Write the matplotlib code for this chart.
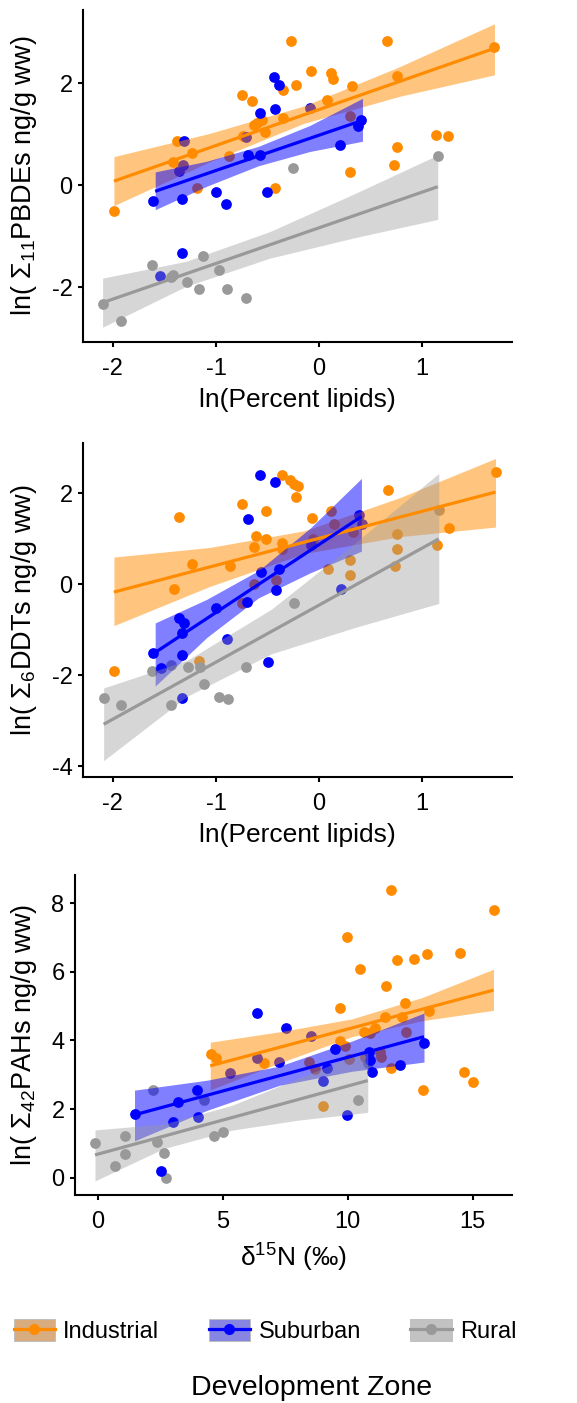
import numpy as np
import matplotlib
matplotlib.use("Agg")
import matplotlib.pyplot as plt
from matplotlib.patches import Patch
from matplotlib.lines import Line2D

plt.rcParams['font.family'] = ['Liberation Sans', 'DejaVu Sans']
plt.rcParams['mathtext.fontset'] = 'custom'
plt.rcParams['mathtext.rm'] = 'Liberation Sans'
plt.rcParams['mathtext.it'] = 'Liberation Sans:italic'
plt.rcParams['mathtext.sf'] = 'Liberation Sans'

zones = ["Industrial", "Suburban", "Rural"]
colors = {"Industrial": "#FF8C00", "Suburban": "#0000FF", "Rural": "#999999"}
band_alpha = {"Industrial": 0.5, "Suburban": 0.5, "Rural": 0.4}
key_colors = {"Industrial": "#D8AC7E", "Suburban": "#8686E2", "Rural": "#C2C2C2"}

# ---------------- Panel 1: PBDEs vs ln(Percent lipids) ----------------
pbde_ind_x = [-1.99, -1.38, -1.42, -1.23, -1.18, -0.87, -0.75, -0.65, -0.63, -0.60, -0.55, -0.53,
              -0.74, -0.35, -0.35, -0.27, -0.22, -0.08, -0.43, 0.08, 0.11, 0.13, 0.32, 0.30,
              0.30, 0.66, 0.75, 0.75, 0.73, 1.13, 1.25, 1.70]
pbde_ind_y = [-0.51, 0.87, 0.46, 0.64, -0.05, 0.58, 1.77, 1.65, 1.17, 1.22, 1.28, 1.05,
              0.96, 1.87, 1.32, 2.83, 1.97, 2.23, -0.05, 1.67, 2.20, 2.08, 1.95, 1.36,
              0.25, 2.83, 2.14, 0.74, 0.40, 0.98, 0.96, 2.70]
pbde_sub_x = [-1.61, -1.54, -1.36, -1.32, -1.31, -1.33, -1.33, -1.00, -0.90, -0.71, -0.69,
              -0.57, -0.57, -0.51, -0.44, -0.39, -0.43, -0.09, 0.20, 0.38, 0.41]
pbde_sub_y = [-0.31, -1.77, 0.27, 0.40, 0.87, -0.28, -1.32, -0.14, -0.36, 0.94, 0.59,
              0.59, 1.41, -0.13, 2.12, 1.97, 1.50, 1.51, 0.78, 1.15, 1.28]
pbde_rur_x = [-2.10, -1.92, -1.62, -1.44, -1.42, -1.28, -1.17, -1.13, -0.97, -0.89, -0.71, -0.25, 1.15]
pbde_rur_y = [-2.32, -2.66, -1.56, -1.79, -1.75, -1.90, -2.04, -1.39, -1.66, -2.04, -2.20, 0.33, 0.58]

# fitted lines (end points) and 95% bands
pbde_ind_fit_x = [-1.99, 1.70]
pbde_ind_fit_y = [0.08, 2.68]
pbde_ind_band_x = [-1.99, -1.07, -0.15, 0.78, 1.70]
pbde_ind_band_hi = [0.56, 1.01, 1.55, 2.32, 3.16]
pbde_ind_band_lo = [-0.40, 0.45, 1.21, 1.74, 2.16]

pbde_sub_fit_x = [-1.59, 0.42]
pbde_sub_fit_y = [-0.12, 1.27]
pbde_sub_band_x = [-1.59, -1.09, -0.59, -0.09, 0.42]
pbde_sub_band_hi = [0.26, 0.47, 0.76, 1.17, 1.70]
pbde_sub_band_lo = [-0.48, -0.02, 0.38, 0.66, 0.86]

pbde_rur_fit_x = [-2.10, 1.15]
pbde_rur_fit_y = [-2.30, -0.03]
pbde_rur_band_x = [-2.10, -1.29, -0.48, 0.34, 1.15]
pbde_rur_band_hi = [-1.82, -1.49, -0.91, -0.17, 0.59]
pbde_rur_band_lo = [-2.78, -1.98, -1.43, -1.03, -0.67]

# ---------------- Panel 2: DDTs vs ln(Percent lipids) ----------------
ddt_ind_x = [-1.99, -1.41, -1.36, -1.23, -0.86, -0.75, -0.75, -1.17, -0.63, -0.61, -0.52, -0.52,
             -0.63, -0.36, -0.28, -0.24, -0.21, -0.22, -0.36, -0.36, -0.42, -0.07, -0.06, 0.09,
             0.11, 0.14, 0.30, 0.30, 0.33, 0.67, 0.75, 0.75, 0.74, 1.14, 1.26, 1.71]
ddt_ind_y = [-1.90, -0.10, 1.49, 0.45, 0.40, 1.77, -0.42, -1.68, 0.82, 1.06, 1.00, 1.61,
             0.00, 2.40, 2.30, 2.21, 2.17, 1.93, 0.92, 0.78, 0.09, 1.46, 1.00, 0.34,
             1.61, 1.33, 0.53, 0.20, 1.15, 2.07, 1.11, 0.78, 0.40, 0.86, 1.25, 2.47]
ddt_sub_x = [-1.61, -1.53, -1.36, -1.33, -1.31, -1.33, -1.33, -1.00, -0.89, -0.70, -0.69,
             -0.57, -0.56, -0.50, -0.43, -0.42, -0.39, -0.08, 0.21, 0.39, 0.42]
ddt_sub_y = [-1.52, -1.84, -0.75, -1.08, -0.86, -1.56, -2.50, -0.52, -1.21, -0.39, 1.44,
             2.40, 0.27, -1.72, 2.25, -0.12, 0.34, 0.87, -0.11, 1.53, 1.33]
ddt_rur_x = [-2.09, -1.92, -1.62, -1.44, -1.44, -1.27, -1.16, -1.12, -0.97, -0.88, -0.71, -0.24, 1.16]
ddt_rur_y = [-2.51, -2.66, -1.90, -2.66, -1.78, -1.83, -1.83, -2.20, -2.49, -2.53, -1.83, -0.40, 1.63]

ddt_ind_fit_x = [-1.99, 1.71]
ddt_ind_fit_y = [-0.17, 2.03]
ddt_ind_band_x = [-1.99, -1.065, -0.14, 0.785, 1.71]
ddt_ind_band_hi = [0.60, 0.81, 1.18, 1.91, 2.77]
ddt_ind_band_lo = [-0.91, -0.05, 0.68, 1.05, 1.26]

ddt_sub_fit_x = [-1.59, 0.41]
ddt_sub_fit_y = [-1.50, 1.49]
ddt_sub_band_x = [-1.59, -1.09, -0.59, -0.09, 0.41]
ddt_sub_band_hi = [-0.85, -0.33, 0.30, 1.23, 2.33]
ddt_sub_band_lo = [-2.24, -1.17, -0.30, 0.25, 0.73]

ddt_rur_fit_x = [-2.09, 1.16]
ddt_rur_fit_y = [-3.08, 1.00]
ddt_rur_band_x = [-2.09, -1.2775, -0.465, 0.3475, 1.16]
ddt_rur_band_hi = [-2.28, -1.67, -0.55, 0.91, 2.44]
ddt_rur_band_lo = [-3.88, -2.46, -1.53, -0.95, -0.42]

# ---------------- Panel 3: PAHs vs d15N ----------------
pah_ind_x = [4.53, 4.73, 6.63, 8.43, 8.69, 8.99, 9.69, 9.67, 9.87, 9.96, 10.03, 10.49, 10.63,
             10.69, 10.89, 11.09, 11.29, 11.33, 11.47, 11.53, 11.72, 11.72, 11.96, 12.16, 12.27,
             12.32, 12.63, 12.99, 13.16, 13.25, 14.49, 14.63, 15.00, 15.83]
pah_ind_y = [3.62, 3.50, 3.35, 3.38, 3.17, 2.09, 4.94, 3.98, 3.85, 7.01, 3.46, 6.10, 4.26,
             3.53, 4.21, 4.37, 3.67, 3.53, 4.69, 5.59, 8.39, 3.19, 6.35, 4.69, 5.08,
             4.26, 6.39, 2.56, 6.52, 4.87, 6.56, 3.09, 2.78, 7.82]
pah_sub_x = [1.47, 2.53, 3.00, 3.20, 3.96, 3.99, 5.29, 6.36, 6.36, 7.23, 7.52, 8.52, 8.99,
             9.16, 9.47, 9.96, 10.83, 10.89, 10.96, 12.09, 13.05]
pah_sub_y = [1.86, 0.19, 1.61, 2.20, 2.56, 1.76, 3.04, 4.79, 3.48, 3.38, 4.35, 4.13, 2.83,
             3.21, 3.75, 1.83, 3.67, 3.43, 3.07, 3.28, 3.92]
pah_rur_x = [-0.11, 0.69, 1.09, 1.09, 2.19, 2.36, 2.65, 2.72, 4.23, 4.63, 5.00, 10.40, 10.80]
pah_rur_y = [1.00, 0.35, 1.21, 0.68, 2.56, 1.05, 0.73, 0.00, 2.26, 1.21, 1.34, 2.26, 3.35]

pah_ind_fit_x = [4.50, 15.83]
pah_ind_fit_y = [3.26, 5.47]
pah_ind_band_x = [4.50, 7.33, 10.165, 13.0, 15.83]
pah_ind_band_hi = [3.95, 4.26, 4.63, 5.26, 6.08]
pah_ind_band_lo = [2.56, 3.36, 4.11, 4.58, 4.88]

pah_sub_fit_x = [1.47, 13.05]
pah_sub_fit_y = [1.83, 4.11]
pah_sub_band_x = [1.47, 4.365, 7.26, 10.155, 13.05]
pah_sub_band_hi = [2.55, 2.84, 3.25, 3.98, 4.80]
pah_sub_band_lo = [1.07, 1.96, 2.69, 3.10, 3.37]

pah_rur_fit_x = [-0.11, 10.80]
pah_rur_fit_y = [0.66, 2.83]
pah_rur_band_x = [-0.11, 2.6175, 5.345, 8.0725, 10.80]
pah_rur_band_hi = [1.39, 1.56, 2.10, 2.91, 3.73]
pah_rur_band_lo = [-0.10, 0.84, 1.38, 1.68, 1.90]

panels = [
    dict(points={"Industrial": (pbde_ind_x, pbde_ind_y), "Suburban": (pbde_sub_x, pbde_sub_y),
                 "Rural": (pbde_rur_x, pbde_rur_y)},
         fits={"Industrial": (pbde_ind_fit_x, pbde_ind_fit_y, pbde_ind_band_x, pbde_ind_band_lo, pbde_ind_band_hi),
               "Suburban": (pbde_sub_fit_x, pbde_sub_fit_y, pbde_sub_band_x, pbde_sub_band_lo, pbde_sub_band_hi),
               "Rural": (pbde_rur_fit_x, pbde_rur_fit_y, pbde_rur_band_x, pbde_rur_band_lo, pbde_rur_band_hi)},
         xlim=(-2.29, 1.87), ylim=(-3.07, 3.43), xticks=[-2, -1, 0, 1], yticks=[-2, 0, 2],
         xlabel="ln(Percent lipids)", ylabel=r"ln( $\Sigma_{11}$PBDEs ng/g ww)",
         rect_px=(83, 10, 512, 342)),
    dict(points={"Industrial": (ddt_ind_x, ddt_ind_y), "Suburban": (ddt_sub_x, ddt_sub_y),
                 "Rural": (ddt_rur_x, ddt_rur_y)},
         fits={"Industrial": (ddt_ind_fit_x, ddt_ind_fit_y, ddt_ind_band_x, ddt_ind_band_lo, ddt_ind_band_hi),
               "Suburban": (ddt_sub_fit_x, ddt_sub_fit_y, ddt_sub_band_x, ddt_sub_band_lo, ddt_sub_band_hi),
               "Rural": (ddt_rur_fit_x, ddt_rur_fit_y, ddt_rur_band_x, ddt_rur_band_lo, ddt_rur_band_hi)},
         xlim=(-2.29, 1.87), ylim=(-4.24, 3.11), xticks=[-2, -1, 0, 1], yticks=[-4, -2, 0, 2],
         xlabel="ln(Percent lipids)", ylabel=r"ln( $\Sigma_{6}$DDTs ng/g ww)",
         rect_px=(83, 443, 512, 777)),
    dict(points={"Industrial": (pah_ind_x, pah_ind_y), "Suburban": (pah_sub_x, pah_sub_y),
                 "Rural": (pah_rur_x, pah_rur_y)},
         fits={"Industrial": (pah_ind_fit_x, pah_ind_fit_y, pah_ind_band_x, pah_ind_band_lo, pah_ind_band_hi),
               "Suburban": (pah_sub_fit_x, pah_sub_fit_y, pah_sub_band_x, pah_sub_band_lo, pah_sub_band_hi),
               "Rural": (pah_rur_fit_x, pah_rur_fit_y, pah_rur_band_x, pah_rur_band_lo, pah_rur_band_hi)},
         xlim=(-0.91, 16.57), ylim=(-0.51, 8.83), xticks=[0, 5, 10, 15], yticks=[0, 2, 4, 6, 8],
         xlabel=r"$\mathrm{\delta}^{15}$N (‰)", ylabel=r"ln( $\Sigma_{42}$PAHs ng/g ww)",
         rect_px=(75, 875, 512, 1195)),
]

W, H = 577, 1403
fig = plt.figure(figsize=(W / 100, H / 100), dpi=100)

for p in panels:
    l, t, r, b = p["rect_px"]
    ax = fig.add_axes([l / W, 1 - b / H, (r - l) / W, (b - t) / H])
    for z in ["Industrial", "Rural", "Suburban"]:
        x, y = p["points"][z]
        ax.scatter(x, y, s=60, color=colors[z], linewidths=0, zorder=2)
    for z in zones:
        fx, fy, bx, blo, bhi = p["fits"][z]
        ax.fill_between(bx, blo, bhi, color=colors[z], alpha=band_alpha[z],
                        linewidth=0, zorder=3)
        ax.plot(fx, fy, color=colors[z], lw=2.3, zorder=4, solid_capstyle='butt')
    ax.set_xlim(*p["xlim"]); ax.set_ylim(*p["ylim"])
    ax.set_xticks(p["xticks"]); ax.set_yticks(p["yticks"])
    ax.set_xticklabels([str(v) for v in p["xticks"]])
    ax.set_yticklabels([str(v) for v in p["yticks"]])
    for sp in ["top", "right"]:
        ax.spines[sp].set_visible(False)
    for sp in ["left", "bottom"]:
        ax.spines[sp].set_linewidth(1.5)
    ax.tick_params(axis='both', length=3.5, width=1.5, labelsize=17, colors='black')
    ax.tick_params(axis='x', pad=8)
    ax.tick_params(axis='y', pad=4)
    ax.set_xlabel(p["xlabel"], fontsize=19, labelpad=6)
    ax.set_ylabel(p["ylabel"], fontsize=19.5)
    ax.yaxis.set_label_coords((39 - l) / (r - l), 0.5)

handles = [(Patch(facecolor=key_colors[z], edgecolor='#BBBBBB', linewidth=0.6),
            Line2D([], [], color=colors[z], lw=2.3, marker='o', markersize=7))
           for z in zones]
fig.legend(handles, zones, loc='center', bbox_to_anchor=(265 / W, 1 - 1331 / H), ncol=3,
           frameon=False, fontsize=17, handlelength=1.75, handleheight=1.1,
           handletextpad=0.35, columnspacing=2.1)
fig.text(312 / W, 1 - 1395 / H, "Development Zone", ha='center', va='baseline', fontsize=20.5)

fig.savefig("out.png", dpi=100)
